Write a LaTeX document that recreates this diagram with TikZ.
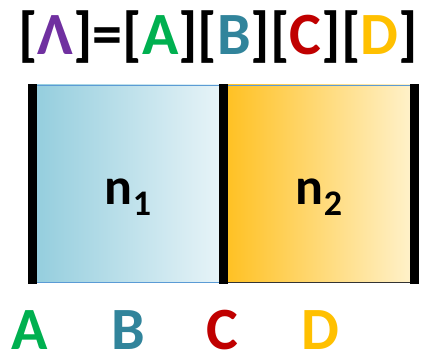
\documentclass[tikz,border=0pt]{standalone}
\usepackage{fontspec}
\setmainfont{Carlito}
\usepackage{tikz}
\usetikzlibrary{positioning}
\definecolor{lampurple}{HTML}{7030A0}
\definecolor{agreen}{HTML}{00B050}
\definecolor{bteal}{HTML}{31849B}
\definecolor{cred}{HTML}{C00000}
\definecolor{dgold}{HTML}{FFC000}
\definecolor{edgeblue}{HTML}{5B9BD5}
\tikzset{
  big/.style={font=\fontsize{60}{70}\selectfont\bfseries, inner sep=0pt, anchor=base},
  mid/.style={font=\fontsize{52}{60}\selectfont\bfseries, inner sep=0pt, anchor=base},
  wall/.style={line width=9pt},
}
\newcommand{\sub}[1]{\raisebox{-0.2em}{\fontsize{36}{42}\selectfont #1}}
\begin{document}
\begin{tikzpicture}[x=1pt,y=1pt]
        \useasboundingbox (0,0) rectangle (433,358);
        % title
        \node[big] (title) at (218,303)
          {[\textcolor{lampurple}{Λ}]=[\textcolor{agreen}{A}][\textcolor{bteal}{B}][\textcolor{cred}{C}][\textcolor{dgold}{D}]};
        % the two layers
        \shade[left color={rgb,255:red,147;green,205;blue,221}, right color={rgb,255:red,232;green,244;blue,248}]
          (32,76) rectangle (223,273);
        \shade[left color={rgb,255:red,255;green,192;blue,32}, right color={rgb,255:red,255;green,242;blue,204}]
          (223,76) rectangle (414,273);
        \draw[gray!70!black, line width=0.8pt] (32,273) rectangle (223,76);
        \draw[black!80, line width=0.8pt] (223,76) -- (414,76);
        \draw[edgeblue, line width=0.8pt] (32,273) -- (414,273);
        \draw[edgeblue, line width=0.8pt] (32,76) -- (223,76);
        \draw[wall] (32,74) -- (32,274);
        \draw[wall] (223,74) -- (223,274);
        \draw[wall] (414,74) -- (414,274);
        \node[mid] (n1) at (128,153) {n\sub{1}};
        \node[mid] (n2) at (319,153) {n\sub{2}};
        % interfaces below
        \node[big, text=agreen] (A) at (30,8) {A};
        \node[big, text=bteal] (B) at (128,8) {B};
        \node[big, text=cred] (C) at (222,8) {C};
        \node[big, text=dgold] (D) at (320,8) {D};
      \end{tikzpicture}
\end{document}
